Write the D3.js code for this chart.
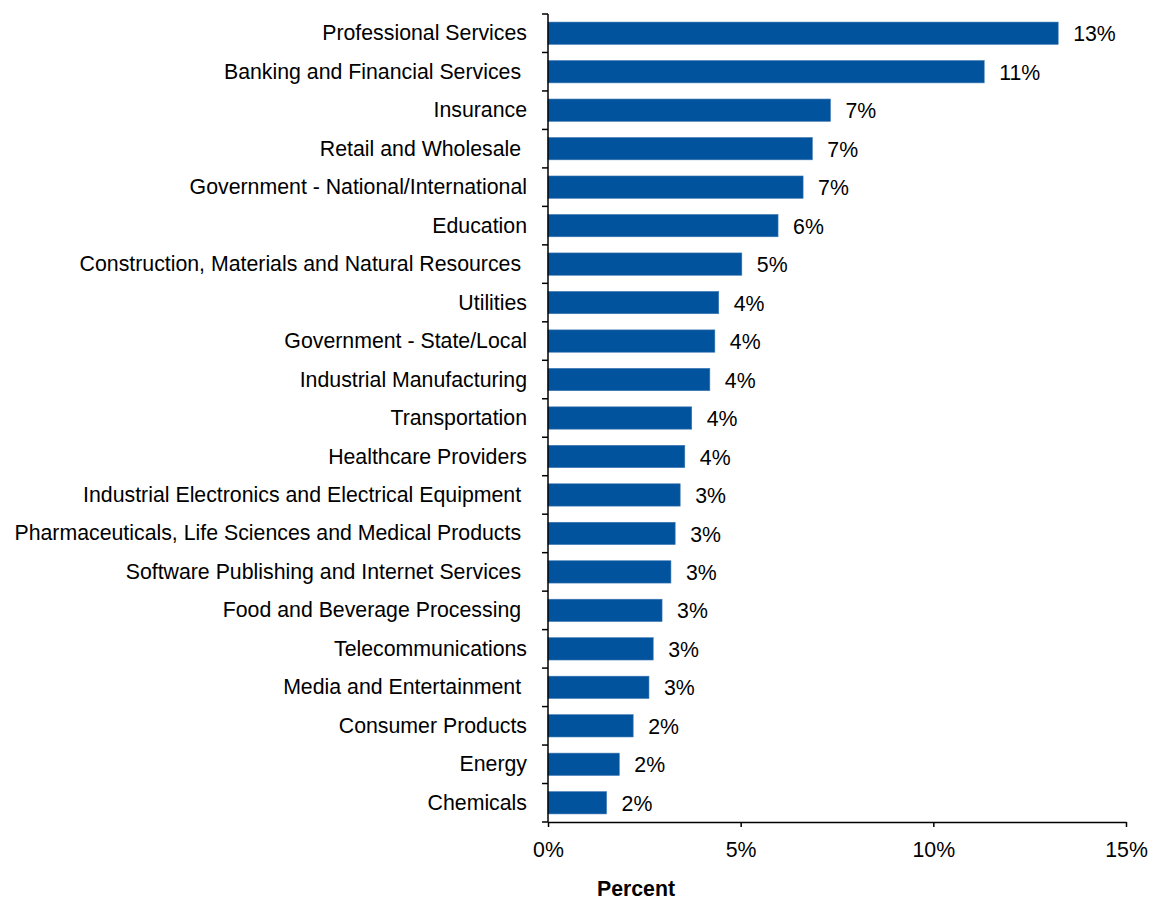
<!DOCTYPE html>
<html>
<head>
<meta charset="utf-8">
<script src="https://cdn.jsdelivr.net/npm/d3@7"></script>
<style>
  html, body { margin: 0; padding: 0; background: #ffffff; }
  svg { display: block; }
  text { font-family: "Liberation Sans", Arial, sans-serif; fill: #000; }
</style>
</head>
<body>
<svg id="chart" width="1151" height="901"></svg>
<script>
// Share of respondents by industry (percent)
const industries = [
  "Professional Services",
  "Banking and Financial Services ",
  "Insurance",
  "Retail and Wholesale ",
  "Government - National/International",
  "Education",
  "Construction, Materials and Natural Resources ",
  "Utilities",
  "Government - State/Local",
  "Industrial Manufacturing",
  "Transportation",
  "Healthcare Providers",
  "Industrial Electronics and Electrical Equipment ",
  "Pharmaceuticals, Life Sciences and Medical Products ",
  "Software Publishing and Internet Services ",
  "Food and Beverage Processing ",
  "Telecommunications",
  "Media and Entertainment ",
  "Consumer Products",
  "Energy",
  "Chemicals"
];
const shares = [
  13.24, 11.32, 7.33, 6.86, 6.62, 5.97, 5.03, 4.43, 4.33, 4.20, 3.73,
  3.55, 3.43, 3.30, 3.19, 2.96, 2.73, 2.62, 2.21, 1.85, 1.52
];
const xTicks = [0, 5, 10, 15];
const axisTitle = "Percent";

const svg = d3.select("#chart");
const fontSize = 21.3;
const barColor = "#00539C";

const x = d3.scaleLinear().domain([0, 15]).range([548, 1126]);
const pad = 0.42;
const y = d3.scaleBand()
  .domain(industries)
  .range([14, 822])
  .paddingInner(pad)
  .paddingOuter(pad / 2);

const rows = industries.map((name, i) => ({ name, value: shares[i] }));

// bars
svg.append("g")
  .selectAll("rect")
  .data(rows)
  .join("rect")
  .attr("x", x(0))
  .attr("y", d => y(d.name))
  .attr("width", d => x(d.value) - x(0))
  .attr("height", y.bandwidth())
  .attr("fill", barColor)
  .attr("stroke", "#3f78b5")
  .attr("stroke-width", 0.6);

// category labels
svg.append("g")
  .selectAll("text")
  .data(rows)
  .join("text")
  .attr("x", 527)
  .attr("y", d => y(d.name) + y.bandwidth() / 2)
  .attr("dy", "0.33em")
  .attr("text-anchor", "end")
  .style("white-space", "pre")
  .style("font-size", fontSize + "px")
  .text(d => d.name);

// value labels
const fmt = v => Math.round(v) + "%";
svg.append("g")
  .selectAll("text")
  .data(rows)
  .join("text")
  .attr("x", d => x(d.value) + 15)
  .attr("y", d => y(d.name) + y.bandwidth() / 2)
  .attr("dy", "0.38em")
  .style("font-size", fontSize + "px")
  .text(d => fmt(d.value));

// vertical axis with ticks between categories
const yAxis = svg.append("g").attr("stroke", "#000").attr("stroke-width", 1.5);
const edges = d3.range(industries.length + 1).map(i => y.range()[0] + i * y.step());
yAxis.append("line")
  .attr("x1", x(0)).attr("x2", x(0))
  .attr("y1", y.range()[0]).attr("y2", y.range()[1]);
yAxis.selectAll("line.tick")
  .data(edges)
  .join("line")
  .attr("class", "tick")
  .attr("x1", x(0) - 6).attr("x2", x(0))
  .attr("y1", d => d).attr("y2", d => d);

// horizontal axis
const xAxis = svg.append("g")
  .attr("transform", `translate(0,${y.range()[1]})`)
  .call(d3.axisBottom(x)
    .tickValues(xTicks)
    .tickFormat(d => d + "%")
    .tickSizeInner(5)
    .tickSizeOuter(0)
    .tickPadding(15));
xAxis.select(".domain").attr("stroke", "#000").attr("stroke-width", 1.5);
xAxis.selectAll(".tick line").attr("stroke", "#000").attr("stroke-width", 1.5);
xAxis.selectAll(".tick text")
  .style("font-family", '"Liberation Sans", Arial, sans-serif')
  .style("font-size", fontSize + "px")
  .attr("fill", "#000");

// axis title
svg.append("text")
  .attr("x", 636)
  .attr("y", 896)
  .attr("text-anchor", "middle")
  .style("font-size", fontSize + "px")
  .style("font-weight", "bold")
  .text(axisTitle);
</script>
</body>
</html>
